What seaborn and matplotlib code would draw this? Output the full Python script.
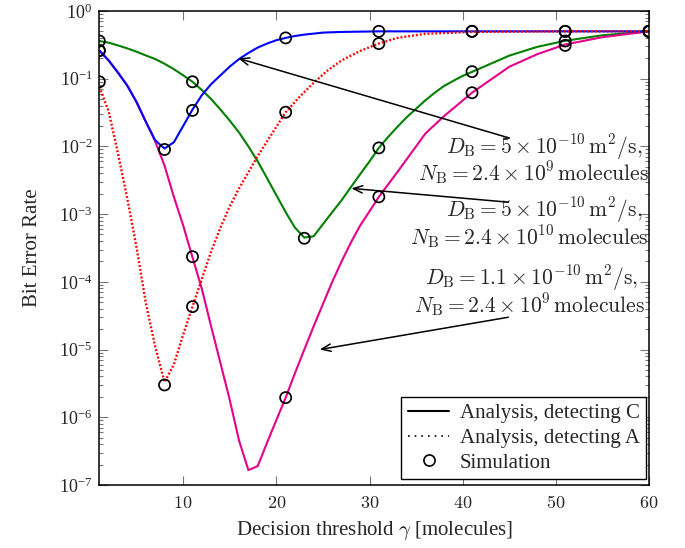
import matplotlib
matplotlib.use("Agg")
import matplotlib.pyplot as plt
from matplotlib.lines import Line2D
from matplotlib.ticker import NullFormatter, FixedLocator, LogFormatterSciNotation
import pandas as pd
import seaborn as sns

# ---- analytical BER curves (gamma = decision threshold in molecules) ----
# D_B = 5e-10 m^2/s, N_B = 2.4e9, detecting C
gamma_b = [1, 2, 3, 4, 5, 6, 7, 8, 9, 10, 11, 12, 13, 14, 15, 16, 17, 18, 19, 20, 21,
           22, 23, 25, 27, 31, 40, 50, 60]
ber_b = [0.26, 0.186, 0.123, 0.079, 0.045, 0.023, 0.0123, 0.0093, 0.0115, 0.020, 0.035,
         0.057, 0.083, 0.112, 0.151, 0.195, 0.24, 0.288, 0.33, 0.37, 0.40,
         0.427, 0.447, 0.479, 0.49, 0.50, 0.50, 0.50, 0.50]

# D_B = 5e-10 m^2/s, N_B = 2.4e9, detecting A
gamma_r = [1, 2, 3, 4, 5, 6, 7, 8, 9, 10, 11, 12, 13, 14, 15, 16, 18, 21, 22.5, 24, 25.5,
           27, 29, 31, 33, 36, 41, 50, 60]
ber_r = [0.076, 0.033, 0.0079, 0.0017, 3.2e-4, 4.8e-5, 1.1e-5, 3.3e-6, 6.0e-6, 1.66e-5,
         4.3e-5, 1.1e-4, 2.8e-4, 6.3e-4, 1.3e-3, 2.4e-3, 7.2e-3, 0.032, 0.054, 0.087,
         0.132, 0.186, 0.257, 0.33, 0.40, 0.46, 0.49, 0.50, 0.50]

# D_B = 5e-10 m^2/s, N_B = 2.4e10, detecting C
gamma_g = [1, 2, 3, 4, 5, 6, 7, 8, 9, 10, 11, 12, 13, 14, 15, 16, 17, 18, 19, 20, 21, 22,
           23, 24, 25, 26, 27, 28, 29, 30, 31, 32, 33, 34, 35, 36, 37, 38, 39, 40, 41, 43,
           45, 48, 51, 55, 60]
ber_g = [0.36, 0.34, 0.31, 0.28, 0.25, 0.22, 0.195, 0.166, 0.138, 0.112, 0.090, 0.068,
         0.050, 0.035, 0.024, 0.016, 0.010, 0.006, 0.0034, 0.0019, 0.00107, 6.3e-4,
         4.5e-4, 4.7e-4, 7.1e-4, 1.07e-3, 1.6e-3, 2.5e-3, 3.9e-3, 6.0e-3, 9.5e-3, 0.0138,
         0.0195, 0.027, 0.036, 0.048, 0.062, 0.078, 0.093, 0.110, 0.126, 0.166, 0.219,
         0.295, 0.363, 0.437, 0.50]

# D_B = 1.1e-10 m^2/s, N_B = 2.4e9, detecting C
gamma_m = [1, 2, 3, 4, 5, 6, 7, 8, 9, 10, 11, 12, 13, 14, 15, 16, 17, 18, 19, 20, 21, 22,
           23, 24, 25, 26, 27, 28, 29, 30, 31, 33, 36, 38, 41, 45, 48, 51, 55, 60]
ber_m = [0.26, 0.186, 0.123, 0.079, 0.045, 0.023, 0.0118, 0.0052, 0.0018, 6.8e-4, 2.3e-4,
         7.9e-5, 2.2e-5, 6.3e-6, 1.8e-6, 4.5e-7, 1.66e-7, 1.9e-7, 4.2e-7, 9.1e-7, 1.95e-6,
         4.5e-6, 1.0e-5, 2.2e-5, 4.7e-5, 1.0e-4, 2.0e-4, 3.8e-4, 6.8e-4, 1.1e-3, 1.8e-3,
         4.2e-3, 0.0155, 0.028, 0.062, 0.15, 0.23, 0.32, 0.41, 0.50]

# ---- simulation results ----
sim_gamma_b = [1, 8, 11, 21, 31, 41, 51, 60]
sim_ber_b = [0.26, 0.0090, 0.034, 0.40, 0.50, 0.50, 0.50, 0.50]
sim_gamma_r = [1, 8, 11, 21, 31, 41, 51, 60]
sim_ber_r = [0.09, 3.0e-6, 4.3e-5, 0.032, 0.33, 0.50, 0.50, 0.50]
sim_gamma_g = [1, 11, 23, 31, 41, 51, 60]
sim_ber_g = [0.36, 0.09, 4.4e-4, 0.0095, 0.127, 0.36, 0.50]
sim_gamma_m = [1, 11, 21, 31, 41, 51, 60]
sim_ber_m = [0.26, 2.35e-4, 1.95e-6, 1.8e-3, 0.062, 0.31, 0.50]

x_ticks = [10, 20, 30, 40, 50, 60]
y_decades = [-7, -6, -5, -4, -3, -2, -1, 0]
legend_labels = ["Analysis, detecting C", "Analysis, detecting A", "Simulation"]
note_lines = [
    (r"$D_{\mathrm{B}} = 5\times10^{-10}\,\mathrm{m}^2/\mathrm{s},$",
     r"$N_{\mathrm{B}} = 2.4\times10^{9}\,\mathrm{molecules}$"),
    (r"$D_{\mathrm{B}} = 5\times10^{-10}\,\mathrm{m}^2/\mathrm{s},$",
     r"$N_{\mathrm{B}} = 2.4\times10^{10}\,\mathrm{molecules}$"),
    (r"$D_{\mathrm{B}} = 1.1\times10^{-10}\,\mathrm{m}^2/\mathrm{s},$",
     r"$N_{\mathrm{B}} = 2.4\times10^{9}\,\mathrm{molecules}$"),
]

sns.set_theme(style="ticks")
plt.rcParams["font.family"] = ["serif"]
plt.rcParams["font.serif"] = ["Liberation Serif", "DejaVu Serif"]
plt.rcParams["mathtext.fontset"] = "cm"

fig = plt.figure(figsize=(6.85, 5.48), dpi=100)
ax = fig.add_axes([0.145, 0.115, 0.8025, 0.865])

BLUE, GREEN, PINK, RED = "#0000ff", "#008000", "#e5008c", "#ff0000"
lw = 1.5
sns.lineplot(x=gamma_g, y=ber_g, ax=ax, color=GREEN, lw=lw, sort=False)
sns.lineplot(x=gamma_m, y=ber_m, ax=ax, color=PINK, lw=lw, sort=False)
sns.lineplot(x=gamma_b, y=ber_b, ax=ax, color=BLUE, lw=lw, sort=False)
sns.lineplot(x=gamma_r, y=ber_r, ax=ax, color=RED, lw=1.7, sort=False,
             linestyle=(0, (0.8, 0.85)))

sim = pd.DataFrame({
    "gamma": sim_gamma_b + sim_gamma_r + sim_gamma_g + sim_gamma_m,
    "ber": sim_ber_b + sim_ber_r + sim_ber_g + sim_ber_m,
})
sns.scatterplot(data=sim, x="gamma", y="ber", ax=ax, marker="o", s=64,
                facecolors="none", edgecolor="black", linewidth=1.25, zorder=5,
                legend=False)

ax.set_yscale("log")
ax.set_xlim(1, 60)
ax.set_ylim(1e-7, 1)
ax.xaxis.set_major_locator(FixedLocator(x_ticks))
ax.set_xticklabels([f"${t}$" for t in x_ticks])
ax.yaxis.set_major_locator(FixedLocator([10.0 ** k for k in y_decades]))
ax.yaxis.set_major_formatter(LogFormatterSciNotation())
ax.yaxis.set_minor_locator(FixedLocator(
    [m * 10.0 ** k for k in y_decades[:-1] for m in range(2, 10)]))
ax.yaxis.set_minor_formatter(NullFormatter())
ax.tick_params(which="both", direction="in", top=True, right=True,
               color="#777777", width=0.8, labelsize=13)
ax.tick_params(axis="x", pad=7)
ax.tick_params(axis="y", pad=5)
ax.tick_params(which="major", length=6.5)
ax.tick_params(which="minor", length=3)
for sp in ax.spines.values():
    sp.set_color("black")
    sp.set_linewidth(1.1)

ax.set_xlabel(r"Decision threshold $\gamma$ [molecules]", fontsize=15, labelpad=5)
ax.set_ylabel("Bit Error Rate", fontsize=15, labelpad=12)

# annotation arrows: tail near the note, head on the curve
arrow_heads = [(15.9, 0.20), (28.05, 0.0024), (24.65, 1.0e-5)]
arrow_tails = [(45.0, 0.0133), (44.9, 0.0015), (44.9, 3.0e-5)]
for head, tail in zip(arrow_heads, arrow_tails):
    ax.annotate("", xy=head, xytext=tail,
                arrowprops=dict(arrowstyle="->,head_length=0.55,head_width=0.22",
                                color="black", lw=1.1, shrinkA=0, shrinkB=0))

note_x = [1.0, 0.999, 0.993]
note_y = [(0.713, 0.657), (0.579, 0.523), (0.436, 0.380)]
for tx, (y1, y2), (l1, l2) in zip(note_x, note_y, note_lines):
    ax.text(tx - 0.012, y1, l1, transform=ax.transAxes, ha="right", va="center",
            fontsize=15.5, zorder=6)
    ax.text(tx, y2, l2, transform=ax.transAxes, ha="right", va="center",
            fontsize=15.5, zorder=6)

handles = [
    Line2D([], [], color="black", lw=1.5),
    Line2D([], [], color="black", lw=1.2, linestyle=(0, (1, 3))),
    Line2D([], [], color="black", marker="o", linestyle="none", markersize=8,
           markerfacecolor="none", markeredgewidth=1.2),
]
leg = ax.legend(handles, legend_labels, loc="lower right",
                bbox_to_anchor=(0.9945, 0.0127), fontsize=15, frameon=True,
                fancybox=False, framealpha=1, edgecolor="black",
                handlelength=2.0, handletextpad=0.5, labelspacing=0.25,
                borderpad=0.3, borderaxespad=0)
leg.get_frame().set_linewidth(1.0)

fig.savefig("out.png", dpi=100)
